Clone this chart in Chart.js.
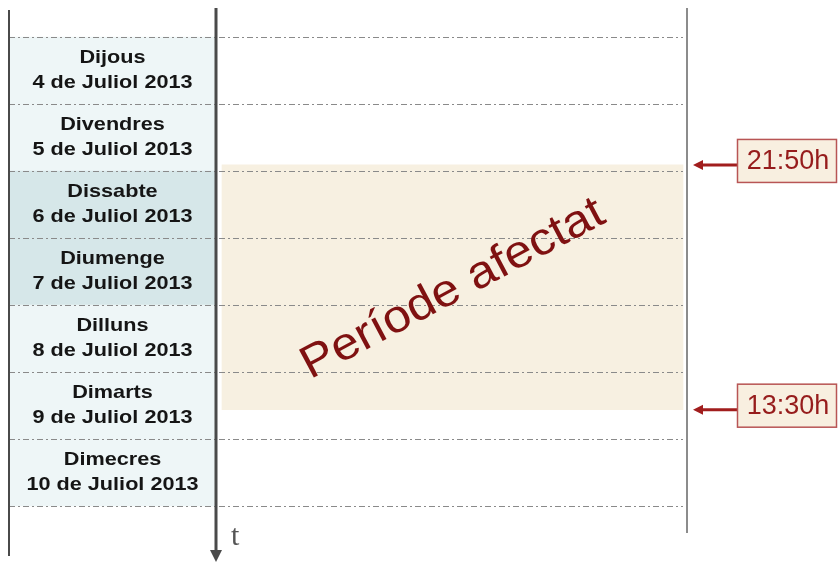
<!DOCTYPE html>
<html>
<head>
<meta charset="utf-8">
<script src="https://cdn.jsdelivr.net/npm/chart.js@4/dist/chart.umd.min.js"></script>
<style>
  html, body { margin: 0; padding: 0; background: #fff; }
  #wrap { width: 838px; height: 562px; position: relative; }
</style>
</head>
<body>
<div id="wrap"><canvas id="chart"></canvas></div>
<script>
// Days shown in the timeline (one row = 24 h)
const dayNames = ['Dijous', 'Divendres', 'Dissabte', 'Diumenge', 'Dilluns', 'Dimarts', 'Dimecres'];
const dayDates = ['4 de Juliol 2013', '5 de Juliol 2013', '6 de Juliol 2013', '7 de Juliol 2013',
  '8 de Juliol 2013', '9 de Juliol 2013', '10 de Juliol 2013'];
const weekend = [false, false, true, true, false, false, false];

// Affected period: start / end (day of month + clock time)
const periodDays = [5, 9];
const periodTimes = ['21:50', '13:30'];
const periodLabel = 'Període afectat';

const firstDay = 4;
const toHours = (day, time) => {
  const [h, m] = time.split(':').map(Number);
  return (day - firstDay) * 24 + h + m / 60;
};
const periodHours = periodDays.map((d, i) => toHours(d, periodTimes[i]));

// Layout (x in canvas units)
const cellLeft = 9, cellRight = 216;
const bandLeft = 222, bandRight = 683;
const rightLine = 687;

const dashes = {
  id: 'dashes',
  afterDatasetsDraw(chart) {
    const { ctx, scales: { x, y } } = chart;
    ctx.save();

    // row separators (dash-dot)
    ctx.strokeStyle = '#8a8a8a';
    ctx.lineWidth = 1;
    ctx.setLineDash([6, 3, 2, 3]);
    for (let i = 0; i <= dayNames.length; i++) {
      const py = Math.round(y.getPixelForValue(i * 24)) + 0.5;
      ctx.beginPath();
      ctx.moveTo(x.getPixelForValue(cellLeft), py);
      ctx.lineTo(x.getPixelForValue(bandRight), py);
      ctx.stroke();
    }
    ctx.setLineDash([]);

    // day labels
    ctx.fillStyle = '#151515';
    ctx.font = 'bold 19px "Liberation Sans", Arial, sans-serif';
    ctx.textAlign = 'center';
    ctx.textBaseline = 'middle';
    const cx = x.getPixelForValue((cellLeft + cellRight) / 2);
    dayNames.forEach((name, i) => {
      const cy = y.getPixelForValue(i * 24 + 12);
      [[name, cy - 12.5], [dayDates[i], cy + 12]].forEach(([t, ty]) => {
        ctx.save();
        ctx.translate(cx, ty);
        ctx.scale(1.14, 1);
        ctx.fillText(t, 0, 0);
        ctx.restore();
      });
    });

    // vertical lines
    ctx.strokeStyle = '#4a4a4a';
    ctx.lineWidth = 2;
    ctx.beginPath();
    ctx.moveTo(x.getPixelForValue(cellLeft), 10);
    ctx.lineTo(x.getPixelForValue(cellLeft), 556);
    ctx.stroke();

    ctx.strokeStyle = '#8c8c8c';
    ctx.beginPath();
    ctx.moveTo(x.getPixelForValue(rightLine), 8);
    ctx.lineTo(x.getPixelForValue(rightLine), 533);
    ctx.stroke();

    // time axis arrow
    const ax = x.getPixelForValue(cellRight);
    ctx.strokeStyle = '#4a4a4a';
    ctx.lineWidth = 3;
    ctx.beginPath();
    ctx.moveTo(ax, 8);
    ctx.lineTo(ax, 552);
    ctx.stroke();
    ctx.fillStyle = '#4a4a4a';
    ctx.beginPath();
    ctx.moveTo(ax - 6, 550);
    ctx.lineTo(ax + 6, 550);
    ctx.lineTo(ax, 562);
    ctx.closePath();
    ctx.fill();

    ctx.fillStyle = '#555';
    ctx.font = '30px "Liberation Serif", "DejaVu Serif", serif';
    ctx.textAlign = 'left';
    ctx.textBaseline = 'alphabetic';
    ctx.fillText('t', ax + 15, 545);

    // period start / end markers
    periodHours.forEach((hrs, i) => {
      const py = y.getPixelForValue(hrs);
      const boxL = 737, boxW = 100, boxH = 44;
      ctx.strokeStyle = '#a11d1d';
      ctx.lineWidth = 3;
      ctx.beginPath();
      ctx.moveTo(boxL, py);
      ctx.lineTo(700, py);
      ctx.stroke();
      ctx.fillStyle = '#a11d1d';
      ctx.beginPath();
      ctx.moveTo(693, py);
      ctx.lineTo(703, py - 5);
      ctx.lineTo(703, py + 5);
      ctx.closePath();
      ctx.fill();

      const top = py - 4 - boxH / 2;
      ctx.fillStyle = '#f8efe0';
      ctx.fillRect(boxL, top, boxW, boxH);
      ctx.strokeStyle = '#b85555';
      ctx.lineWidth = 1.5;
      ctx.strokeRect(boxL + 0.5, top + 0.5, boxW - 1, boxH - 1);

      ctx.fillStyle = '#961c1c';
      ctx.font = '27px "Liberation Sans", Arial, sans-serif';
      ctx.textAlign = 'center';
      ctx.textBaseline = 'middle';
      ctx.fillText(periodTimes[i] + 'h', boxL + boxW / 2 + 1, top + boxH / 2 + 1);
    });

    // diagonal label
    const midY = y.getPixelForValue((periodHours[0] + periodHours[1]) / 2);
    ctx.save();
    ctx.translate(453, midY + 2);
    ctx.rotate(-28 * Math.PI / 180);
    ctx.scale(1.08, 1);
    ctx.fillStyle = '#7f1111';
    ctx.font = '46px "Liberation Sans", Arial, sans-serif';
    ctx.textAlign = 'center';
    ctx.textBaseline = 'middle';
    ctx.fillText(periodLabel, 0, 0);
    ctx.restore();

    ctx.restore();
  }
};

new Chart(document.getElementById('chart'), {
  type: 'bar',
  data: {
    datasets: [
      {
        label: 'Dies',
        data: dayNames.map((d, i) => ({ x: (cellLeft + cellRight) / 2, y: [i * 24, (i + 1) * 24] })),
        backgroundColor: weekend.map(w => w ? '#d6e7e9' : '#eef6f7'),
        barThickness: cellRight - cellLeft,
        grouped: false,
        borderWidth: 0
      },
      {
        label: periodLabel,
        data: [{ x: (bandLeft + bandRight) / 2, y: periodHours }],
        backgroundColor: '#f7f0e1',
        barThickness: bandRight - bandLeft,
        grouped: false,
        borderWidth: 0
      }
    ]
  },
  options: {
    responsive: true,
    maintainAspectRatio: false,
    animation: false,
    layout: { padding: 0 },
    plugins: { legend: { display: false }, tooltip: { enabled: false } },
    scales: {
      x: { type: 'linear', display: false, offset: false, grid: { offset: false }, min: 0, max: 838 },
      y: { type: 'linear', display: false, reverse: true, min: -13.25, max: 188.06 }
    }
  },
  plugins: [dashes]
});
</script>
</body>
</html>
